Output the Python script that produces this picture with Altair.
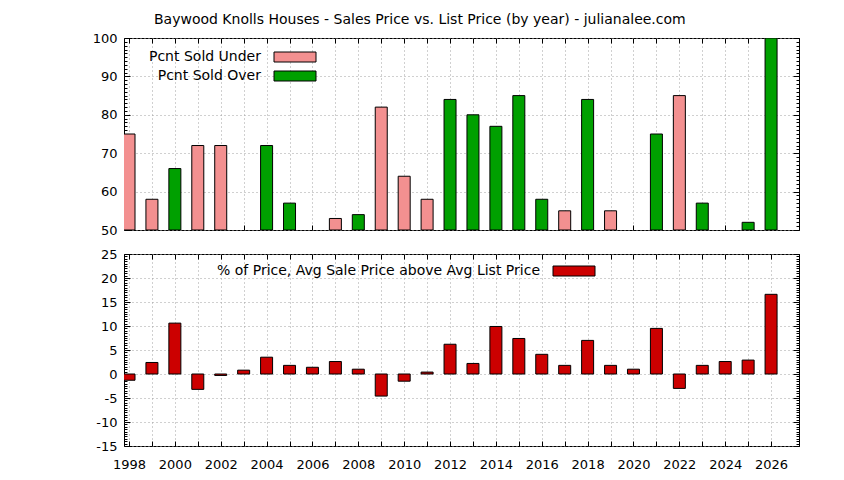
import altair as alt
import pandas as pd

years = list(range(1998, 2027))
pct_under = [75, 58, None, 72, 72, None, None, None, None, 53, None, 82, 64, 58, None,
             None, None, None, None, 55, None, 55, None, None, 85, None, None, None, None]
pct_over = [None, None, 66, None, None, None, 72, 57, None, None, 54, None, None, None, 84,
            80, 77, 85, 58, None, 84, None, None, 75, None, 57, None, 52, 100]
pct_above = [-1.3, 2.4, 10.6, -3.2, -0.3, 0.8, 3.5, 1.8, 1.4, 2.6, 1.0, -4.6, -1.5, 0.4, 6.2,
             2.2, 9.9, 7.4, 4.1, 1.8, 7.0, 1.8, 1.0, 9.5, -3.0, 1.8, 2.6, 2.9, 16.6]
series_names = ["Pcnt Sold Under", "Pcnt Sold Over"]
bottom_name = "% of Price, Avg Sale Price above Avg List Price"
title_text = "Baywood Knolls Houses - Sales Price vs. List Price (by year) - julianalee.com"

rows = []
for y, u, o in zip(years, pct_under, pct_over):
    if u is not None:
        rows.append({"year": y, "value": u, "series": series_names[0]})
    if o is not None:
        rows.append({"year": y, "value": o, "series": series_names[1]})
top_df = pd.DataFrame(rows)
bot_df = pd.DataFrame({"year": years, "pct": pct_above, "metric": [bottom_name] * len(years)})

W, H = 675, 192
FONT = "DejaVu Sans"
GRID = dict(gridColor="#a0a0a0", gridDash=[1, 3], gridWidth=1, gridOpacity=1)
xs = alt.Scale(domain=[1998, 2027], nice=False, zero=False)
ys_top = alt.Scale(domain=[50, 100], nice=False, zero=False)
ys_bot = alt.Scale(domain=[-15, 25], nice=False)

top_major = list(range(50, 101, 10))
top_minor = list(range(50, 101, 1))
bot_major = list(range(-15, 26, 5))
bot_minor = [v / 2 for v in range(-30, 51)]


def tick_axis(orient, values, size):
    return alt.Axis(orient=orient, values=values, tickSize=size, offset=-size, labels=False,
                    domain=False, grid=False, title=None, tickColor="black", tickWidth=1)


def panel(df, yfield, yscale, major, minor, base, color_field, color_scale, legend, show_xlabels):
    bars = alt.Chart(df).mark_bar(size=12, stroke="black", strokeWidth=1, clip=True).encode(
        x=alt.X("year:Q", scale=xs,
                axis=alt.Axis(orient="bottom", values=(list(range(1998, 2027, 2)) if show_xlabels else years),
                              labels=show_xlabels, ticks=False, domain=False, title=None,
                              labelFontSize=13, labelPadding=12, labelColor="black",
                              labelFlush=False, grid=False, format="d")),
        y=alt.Y(f"{yfield}:Q", scale=yscale,
                axis=alt.Axis(orient="left", values=major, tickSize=0, domain=False, title=None,
                              labelExpr="toString(datum.value)",
                              labelFontSize=13, labelPadding=7, labelColor="black", grid=True, **GRID)),
        y2=alt.datum(base),
        fill=alt.Color(f"{color_field}:N", scale=color_scale, legend=legend),
    )
    vgrid = alt.Chart(df).mark_point(opacity=0).encode(
        x=alt.X("year:Q", scale=xs,
                axis=alt.Axis(orient="bottom", values=years, labels=False, ticks=False, domain=False,
                              title=None, grid=True, **GRID)),
        y=alt.Y(f"{yfield}:Q", scale=yscale, axis=None),
    )
    t1 = alt.Chart(df).mark_point(opacity=0).encode(
        x=alt.X("year:Q", scale=xs, axis=tick_axis("top", years, 5)),
        y=alt.Y(f"{yfield}:Q", scale=yscale, axis=tick_axis("left", major, 6)),
    )
    t2 = alt.Chart(df).mark_point(opacity=0).encode(
        x=alt.X("year:Q", scale=xs, axis=tick_axis("bottom", years, 5)),
        y=alt.Y(f"{yfield}:Q", scale=yscale, axis=tick_axis("right", major, 6)),
    )
    t3 = alt.Chart(df).mark_point(opacity=0).encode(
        x=alt.X("year:Q", scale=xs, axis=None),
        y=alt.Y(f"{yfield}:Q", scale=yscale, axis=tick_axis("left", minor, 3)),
    )
    t4 = alt.Chart(df).mark_point(opacity=0).encode(
        x=alt.X("year:Q", scale=xs, axis=None),
        y=alt.Y(f"{yfield}:Q", scale=yscale, axis=tick_axis("right", minor, 3)),
    )
    return alt.layer(vgrid, bars, t1, t2, t3, t4).resolve_axis(x="independent", y="independent").properties(
        width=W, height=H)


SYM = "M-4.2,-1H4.2V1H-4.2Z"
top_legend = alt.Legend(orient="none", legendX=164, legendY=12, title=None, symbolType=SYM, symbolSize=100,
                        symbolStrokeColor="black", symbolStrokeWidth=1, labelAlign="right",
                        labelOffset={"expr": "-41"}, labelLimit=500,
                        labelFontSize=14, labelColor="black", rowPadding=5)
bot_legend = alt.Legend(orient="none", legendX=443, legendY=10, title=None, symbolType=SYM, symbolSize=100,
                        symbolStrokeColor="black", symbolStrokeWidth=1, labelAlign="right",
                        labelOffset={"expr": "-41"}, labelLimit=500,
                        labelFontSize=14, labelColor="black")

top = panel(top_df, "value", ys_top, top_major, top_minor, 50, "series",
            alt.Scale(domain=series_names, range=["#f39090", "#00a000"]), top_legend, False)
bottom = panel(bot_df, "pct", ys_bot, bot_major, bot_minor, 0, "metric",
               alt.Scale(domain=[bottom_name], range=["#cc0000"]), bot_legend, True)

chart = alt.vconcat(top, bottom, spacing=9).resolve_scale(fill="independent").resolve_legend(
    fill="independent").properties(
    title=alt.Title(title_text, fontSize=14, fontWeight="normal", anchor="middle", color="black",
                    font=FONT, offset=5, dx=-26),
    padding={"left": 83, "top": 4, "right": 5, "bottom": 5},
).configure(font=FONT).configure_view(stroke="black", strokeWidth=1)

chart.save("out.html", embed_options={"renderer": "svg", "actions": False})
